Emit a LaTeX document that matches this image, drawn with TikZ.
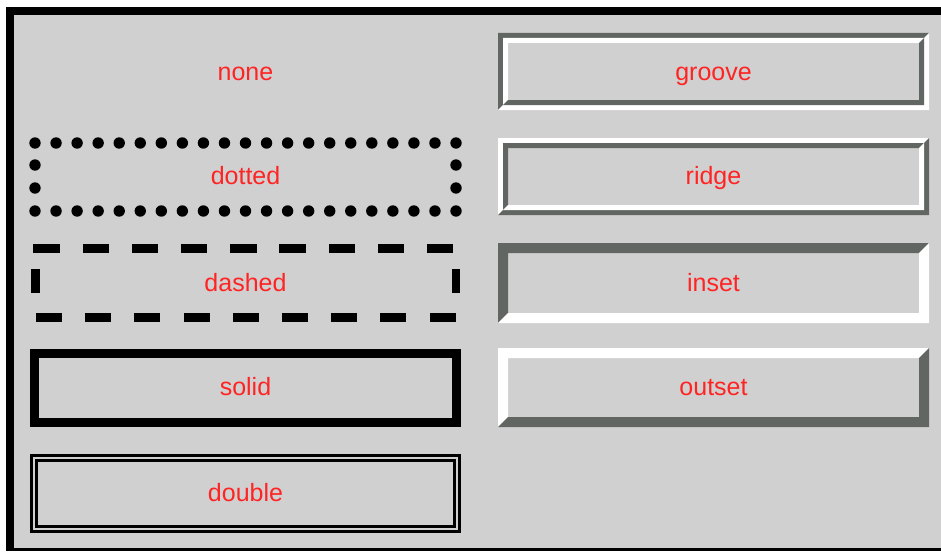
\documentclass[tikz,border=0pt]{standalone}
\usepackage{fontspec}
\setmainfont{Liberation Sans}
\definecolor{bg}{RGB}{208,208,208}
\definecolor{dk}{RGB}{98,102,99}
\definecolor{txt}{RGB}{255,36,36}
\newcommand\mybevel[7]{%
  \fill[#6] (#1,#2) -- (#3,#2) -- ({#3-#5},{#2+#5}) -- ({#1+#5},{#2+#5}) -- ({#1+#5},{#4-#5}) -- (#1,#4) -- cycle;
  \fill[#7] (#3,#2) -- (#3,#4) -- (#1,#4) -- ({#1+#5},{#4-#5}) -- ({#3-#5},{#4-#5}) -- ({#3-#5},{#2+#5}) -- cycle;
}
\tikzset{
  lbl/.style={anchor=base, text=txt, inner sep=0pt, font=\fontsize{25}{30}\selectfont},
}
\begin{document}
\begin{tikzpicture}[x=1pt,y=-1pt]
\useasboundingbox (0,0) rectangle (941,551);
\fill[white] (0,0) rectangle (941,551);
\fill[black] (6,7) rectangle (941,551);
\fill[bg] (14,15) rectangle (941,548);

% dotted
\foreach \i in {0,...,20} {
  \fill ({35+21.05*\i},143) circle (5.7pt);
  \fill ({35+21.05*\i},211) circle (5.7pt);
}
\foreach \yy in {165,188} {
  \fill (35,\yy) circle (5.7pt);
  \fill (456,\yy) circle (5.7pt);
}
% dashed
\foreach \i in {0,...,8} {
  \fill ({33.3+49.2*\i},243.5) rectangle ++(26.5,9);
  \fill ({36+49.2*\i},313) rectangle ++(26,9);
}
\fill (31,269) rectangle (39.5,293);
\fill (451.5,269) rectangle (460,293);
% solid
\draw[line width=9pt] (34.5,353.5) rectangle (456.5,422.5);
% double
\draw[line width=3pt] (31.5,455.5) rectangle (459.5,531.5);
\draw[line width=3pt] (36.5,460.5) rectangle (454.5,526.5);

% groove
\mybevel{498}{33}{929}{110}{5}{dk}{white}
\mybevel{503}{38}{924}{105}{5}{white}{dk}
% ridge
\mybevel{498}{138}{929}{215}{5}{white}{dk}
\mybevel{503}{143}{924}{210}{5}{dk}{white}
% inset
\mybevel{498}{243}{929}{323}{10}{dk}{white}
% outset
\mybevel{498}{348}{929}{427}{10}{white}{dk}

\node[lbl] (none) at (245.5,81) {none};
\node[lbl] (dotted) at (245.5,184) {dotted};
\node[lbl] (dashed) at (245.5,291) {dashed};
\node[lbl] (solid) at (245.5,395) {solid};
\node[lbl] (double) at (245.5,501) {double};
\node[lbl] (groove) at (713.5,80) {groove};
\node[lbl] (ridge) at (713.5,184) {ridge};
\node[lbl] (inset) at (713.5,291) {inset};
\node[lbl] (outset) at (713.5,395) {outset};
\end{tikzpicture}
\end{document}
